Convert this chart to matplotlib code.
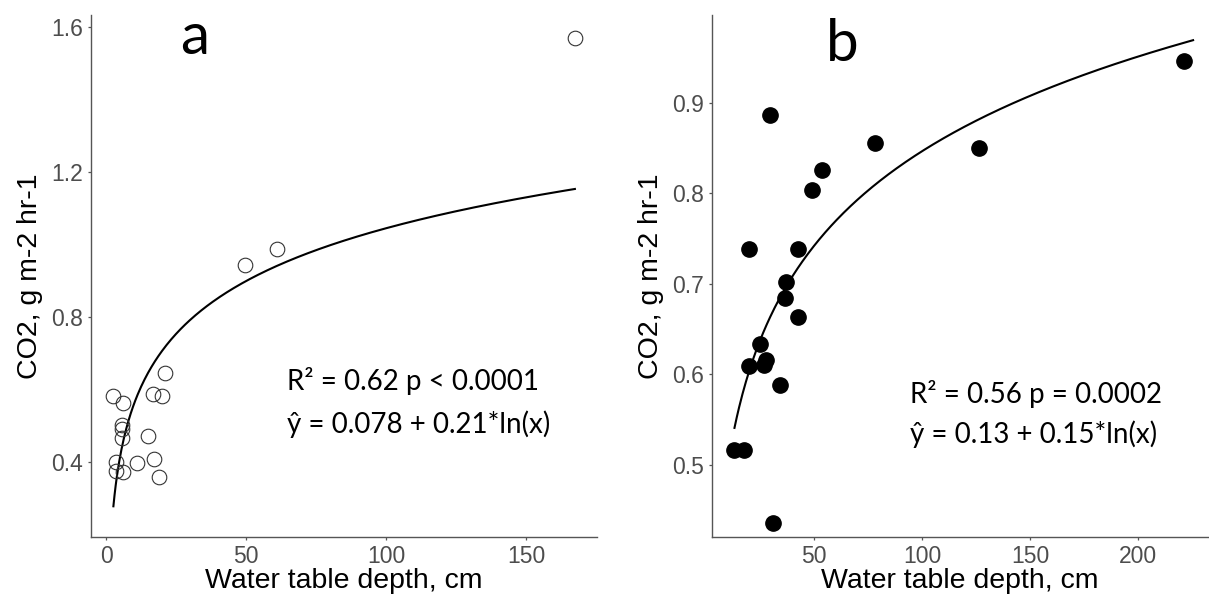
import numpy as np
import matplotlib
matplotlib.use("Agg")
import matplotlib.pyplot as plt

# panel a: water table depth (cm) vs CO2 flux
depth_a = [2.6, 6.0, 16.9, 20.0, 21.1, 5.6, 5.6, 5.6, 15.1, 3.6, 11.0, 17.1,
           3.6, 6.2, 19.0, 49.6, 61.1, 167.5]
co2_a = [0.583, 0.563, 0.588, 0.583, 0.647, 0.504, 0.491, 0.468, 0.472, 0.401,
         0.398, 0.410, 0.377, 0.374, 0.360, 0.945, 0.988, 1.570]

# panel b
depth_b = [221.5, 126.5, 78.1, 53.9, 49.3, 29.7, 19.9, 42.6, 36.9, 36.5, 42.6,
           24.9, 19.9, 27.0, 27.9, 34.4, 13.2, 17.6, 31.0]
co2_b = [0.946, 0.850, 0.856, 0.826, 0.804, 0.887, 0.738, 0.738, 0.702, 0.684,
         0.663, 0.633, 0.609, 0.610, 0.616, 0.588, 0.516, 0.516, 0.436]

# log fit curves y = a + b*ln(x) as drawn
fit_a = (0.078, 0.21)
fit_b = (0.151, 0.151)

text_a = ["R² = 0.62 p < 0.0001", "ŷ = 0.078 + 0.21*ln(x)"]
text_b = ["R² = 0.56 p = 0.0002", "ŷ = 0.13 + 0.15*ln(x)"]

plt.rcParams['font.family'] = ['Liberation Sans', 'DejaVu Sans']
gray = '#4d4d4d'

fig = plt.figure(figsize=(12.09, 5.99), dpi=100)
ax1 = fig.add_axes([91/1209, 62/599, 506/1209, 522/599])
ax2 = fig.add_axes([712/1209, 62/599, 496/1209, 522/599])


def style(ax):
    for s in ['top', 'right']:
        ax.spines[s].set_visible(False)
    for s in ['left', 'bottom']:
        ax.spines[s].set_color('#555555')
        ax.spines[s].set_linewidth(1.0)
    ax.tick_params(axis='both', length=2.5, width=0.9, color='#555555',
                   labelsize=16.5, labelcolor=gray, pad=3)
    ax.set_xlabel('Water table depth, cm', fontsize=20.5, labelpad=0)
    ax.set_ylabel('CO2, g m-2 hr-1', fontsize=20.5, labelpad=6)


# panel a
xs = np.linspace(min(depth_a), max(depth_a), 400)
ax1.plot(xs, fit_a[0] + fit_a[1] * np.log(xs), color='black', lw=1.5)
ax1.plot(depth_a, co2_a, 'o', ms=10.5, mfc='none', mec='#333333', mew=0.8)
ax1.set_xlim(-5.4, 175.4)
ax1.set_ylim(0.194, 1.633)
ax1.set_xticks([0, 50, 100, 150])
ax1.set_yticks([0.4, 0.8, 1.2, 1.6])
ax1.set_yticklabels(['0.4', '0.8', '1.2', '1.6'])
style(ax1)
ax1.text(31.8, 1.526, 'a', fontsize=42, family='Lato', ha='center', va='baseline')
ax1.text(64.6, 0.598, text_a[0], fontsize=20, family='Lato', va='baseline')
ax1.text(64.6, 0.480, text_a[1], fontsize=20, family='Lato', va='baseline')

# panel b
xs = np.linspace(min(depth_b), max(depth_b) + 4, 400)
ax2.plot(xs, fit_b[0] + fit_b[1] * np.log(xs), color='black', lw=1.5)
ax2.plot(depth_b, co2_b, 'o', ms=11, color='black')
ax2.set_xlim(2.8, 232.4)
ax2.set_ylim(0.420, 0.997)
ax2.set_xticks([50, 100, 150, 200])
ax2.set_yticks([0.5, 0.6, 0.7, 0.8, 0.9])
style(ax2)
ax2.text(62.9, 0.946, 'b', fontsize=42, family='Lato', ha='center', va='baseline')
ax2.text(94.3, 0.568, text_b[0], fontsize=20, family='Lato', va='baseline')
ax2.text(94.3, 0.524, text_b[1], fontsize=20, family='Lato', va='baseline')

fig.savefig('out.png', dpi=100)
